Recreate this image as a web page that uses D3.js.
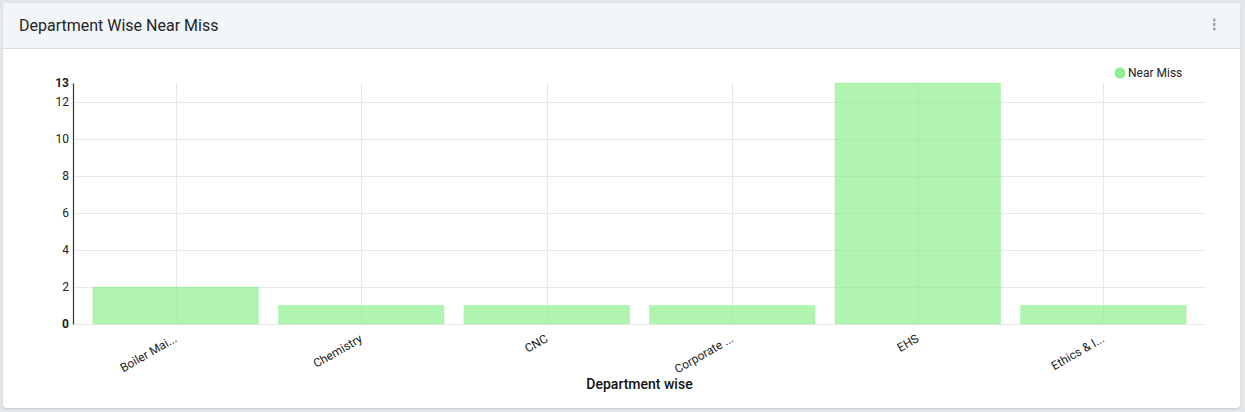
<!DOCTYPE html>
<html><head><meta charset="utf-8">
<script src="https://cdn.jsdelivr.net/npm/d3@7"></script>
<style>
html,body{margin:0;padding:0;background:#e4e7ea;font-family:Roboto,"Noto Sans",sans-serif;}
#card{position:absolute;left:3px;top:3px;width:1237px;height:405px;background:#fff;border-radius:4px;box-shadow:0 1px 2px rgba(0,0,0,0.12);overflow:hidden;}
#hdr{position:absolute;left:0;top:0;width:100%;height:45px;background:#f3f6f9;border-bottom:1px solid #d8dde2;}
#ttl{position:absolute;left:16px;top:13px;font-size:16px;color:#212529;}
svg{position:absolute;left:0;top:0;}
</style></head><body>
<div id="card"><div id="hdr"><div id="ttl">Department Wise Near Miss</div></div></div>
<svg id="chart" width="1245" height="412"></svg>
<script>
const categories = ["Boiler Mai...", "Chemistry", "CNC", "Corporate ...", "EHS", "Ethics & I..."];
const nearMiss = [2, 1, 1, 1, 13, 1];
const yTicks = [0, 2, 4, 6, 8, 10, 12, 13];
const seriesName = "Near Miss";
const xTitle = "Department wise";

(function () {
const svg = d3.select("#chart");
const mLeft = 73, mRight = 1206, mTop = 83, mBottom = 324;
const x = d3.scaleBand().domain(categories).range([mLeft, mRight]).padding(0.107);
const y = d3.scaleLinear().domain([0, 13]).range([mBottom, mTop]);

// menu dots
[20, 24.5, 29].forEach(cy => svg.append("rect").attr("x", 1213).attr("y", cy - 1.5).attr("width", 2.5).attr("height", 3).attr("fill", "#a0a4a8"));

const g = svg.append("g");
g.selectAll("line.hg").data(yTicks.filter(d => d !== 13)).join("line")
  .attr("x1", mLeft).attr("x2", mRight).attr("y1", d => Math.round(y(d)) + 0.5).attr("y2", d => Math.round(y(d)) + 0.5)
  .attr("stroke", "#e6e8ea").attr("stroke-width", 1);
g.selectAll("line.vg").data(categories).join("line")
  .attr("x1", d => Math.round(x(d) + x.bandwidth() / 2) + 0.5).attr("x2", d => Math.round(x(d) + x.bandwidth() / 2) + 0.5)
  .attr("y1", mTop).attr("y2", mBottom).attr("stroke", "#e6e8ea");

g.selectAll("rect.bar").data(categories).join("rect")
  .attr("x", d => x(d)).attr("width", x.bandwidth())
  .attr("y", (d, i) => y(nearMiss[i])).attr("height", (d, i) => y(0) - y(nearMiss[i]))
  .attr("fill", "#90ee90").attr("fill-opacity", 0.7)
  .attr("stroke", "#90ee90").attr("stroke-opacity", 0.3).attr("stroke-width", 1);

const yAxis = d3.axisLeft(y).tickValues(yTicks).tickSize(0).tickPadding(4).tickFormat(d3.format("d"));
const ya = svg.append("g").attr("transform", `translate(${mLeft},0)`).call(yAxis);
ya.select(".domain").attr("stroke", "#333").attr("stroke-width", 1.2);
ya.selectAll("text").attr("font-family", "Roboto, sans-serif").attr("font-size", 12).attr("fill", "#222")
  .attr("font-weight", d => (d === 13 || d === 0) ? "bold" : "normal");

const xAxis = d3.axisBottom(x).tickSize(0).tickPadding(0);
const xa = svg.append("g").attr("transform", `translate(0,${mBottom})`).call(xAxis);
xa.select(".domain").remove();
xa.selectAll("text").attr("font-family", "Roboto, sans-serif").attr("font-size", 12).attr("fill", "#222")
  .attr("text-anchor", "end").attr("dy", 0)
  .attr("transform", "translate(2,17) rotate(-30)");

svg.append("text").attr("x", (mLeft + mRight) / 2).attr("y", 389).attr("text-anchor", "middle")
  .attr("font-family", "Roboto, sans-serif").attr("font-size", 14).attr("font-weight", 500).attr("fill", "#111").text(xTitle);

svg.append("circle").attr("cx", 1120).attr("cy", 73).attr("r", 5.5).attr("fill", "#90ee90");
svg.append("text").attr("x", 1128).attr("y", 77).attr("font-family", "Roboto, sans-serif").attr("font-size", 12).attr("fill", "#222").text(seriesName);
})();
</script>
</body></html>
